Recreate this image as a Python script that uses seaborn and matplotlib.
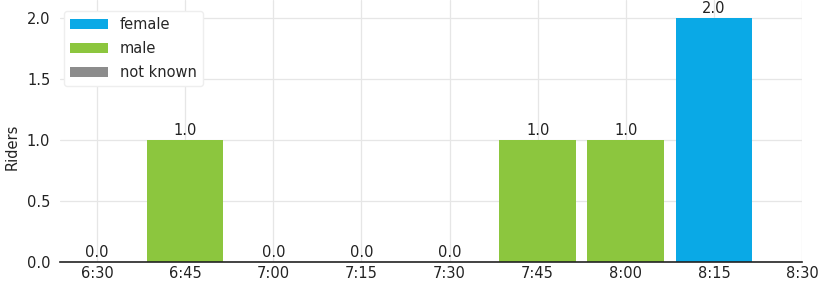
import matplotlib
matplotlib.use("Agg")
import matplotlib.pyplot as plt
import seaborn as sns
import pandas as pd
import numpy as np

times = ["6:30", "6:45", "7:00", "7:15", "7:30", "7:45", "8:00", "8:15"]
tick_labels = ["6:30", "6:45", "7:00", "7:15", "7:30", "7:45", "8:00", "8:15", "8:30"]
female = [0, 0, 0, 0, 0, 0, 0, 2]
male = [0, 1, 0, 0, 0, 1, 1, 0]
not_known = [0, 0, 0, 0, 0, 0, 0, 0]

sns.set_style("whitegrid")
plt.rcParams['font.family'] = ['DejaVu Sans']

fig = plt.figure(figsize=(8.24, 2.87), dpi=100)
ax = fig.add_axes([60/824, 25/287, 742/824, 262/287])

df = pd.DataFrame({"time": times, "female": female, "male": male, "not known": not_known})
df["pos"] = np.arange(len(times))
df["c_female"] = df["female"]
df["c_male"] = df["female"] + df["male"]
df["c_total"] = df["c_male"] + df["not known"]

colors = {"female": "#0aa9e6", "male": "#8cc63e", "not known": "#8c8c8c"}
w = 0.87
for col, name in [("c_total", "not known"), ("c_male", "male"), ("c_female", "female")]:
    sns.barplot(data=df, x="pos", y=col, color=colors[name], width=w, native_scale=True,
                ax=ax, saturation=1, edgecolor="none", linewidth=0, label=name)

for p, t in zip(df["pos"], df["c_total"]):
    ax.text(p, t + 0.015, f"{float(t):.1f}", ha="center", va="bottom", fontsize=10.5, color="#222222")

ax.set_xlim(-0.42, 8.0)
ax.set_ylim(0, 2.148)
ax.set_xticks(range(len(tick_labels)))
ax.set_xticklabels(tick_labels)
ax.set_yticks([0, 0.5, 1.0, 1.5, 2.0])
ax.set_yticklabels(["0.0", "0.5", "1.0", "1.5", "2.0"])
ax.tick_params(axis="x", labelsize=10.5, colors="#222222", length=0, pad=3)
ax.tick_params(axis="y", labelsize=10.5, colors="#222222", length=0, pad=7)
ax.set_xlabel("")
ax.set_ylabel("Riders", fontsize=10.5, color="#222222", labelpad=5)
ax.yaxis.set_label_coords(-0.055, 0.44)
ax.grid(True, color="#e6e6e6", linewidth=0.9)
ax.set_axisbelow(True)
for s in ["top", "right", "left"]:
    ax.spines[s].set_visible(False)
ax.spines["bottom"].set_color("#222222")
ax.spines["bottom"].set_linewidth(1.2)

handles, labels = ax.get_legend_handles_labels()
order = ["female", "male", "not known"]
hl = {l: h for h, l in zip(handles, labels)}
ax.legend([hl[o] for o in order], order, loc="upper left", bbox_to_anchor=(0.0, 0.975),
          fontsize=10.5, frameon=True, framealpha=1, edgecolor="#eeeeee",
          handlelength=2.6, handleheight=0.7, borderaxespad=0.3, labelspacing=0.62)

fig.savefig("out.png", dpi=100)
